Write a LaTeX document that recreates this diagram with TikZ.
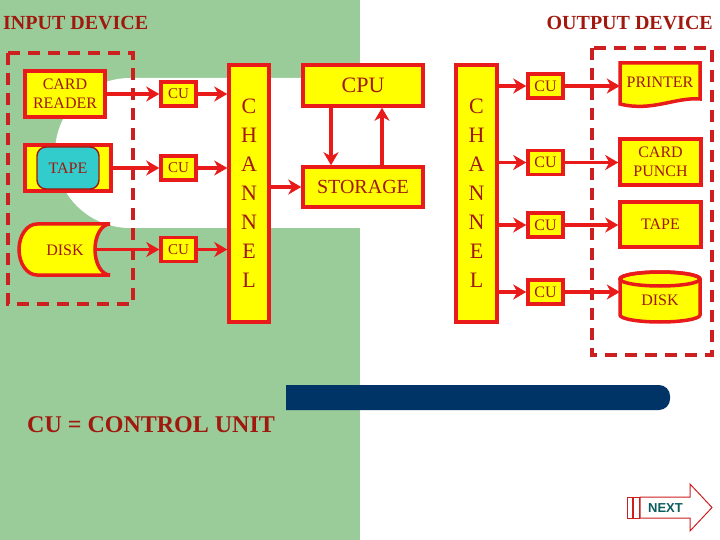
\documentclass[tikz,border=0pt]{standalone}
\usepackage{fontspec}
\setmainfont{Liberation Serif}
\newfontfamily\nextfont{Liberation Sans}
\usetikzlibrary{arrows.meta}
\definecolor{bggreen}{HTML}{99CC99}
\definecolor{boxred}{HTML}{E81A1A}
\definecolor{dashred}{HTML}{CC1F1F}
\definecolor{txtred}{HTML}{A0180E}
\definecolor{barblue}{HTML}{003366}
\definecolor{tapecyan}{HTML}{33CCCC}
\definecolor{nextteal}{HTML}{0E5E5E}
\definecolor{boxyellow}{HTML}{FFFF00}
\begin{document}
\begin{tikzpicture}[x=1pt,y=-1pt,
  box/.style={draw=boxred, fill=boxyellow, line width=3.5pt, inner sep=0pt, text=txtred, align=center},
  lbl/.style={inner sep=0pt, text=txtred, align=center},
  devfont/.style={font=\fontsize{16}{19}\selectfont},
  cubox/.style={box, minimum width=35pt, minimum height=24pt, font=\fontsize{15}{15}\selectfont},
  conn/.style={draw=boxred, line width=3.2pt, -{Stealth[length=13pt,width=15pt,inset=4pt]}},
  chan/.style={box, minimum width=40pt, minimum height=257pt, font=\fontsize{22}{29}\selectfont},
  devdash/.style={draw=dashred, line width=3.2pt, dash pattern=on 12pt off 8pt},
  shapeline/.style={draw=boxred, fill=boxyellow, line width=3.5pt},
  title/.style={inner sep=0pt, text=txtred, font=\bfseries\fontsize{20}{20}\selectfont}
]
\useasboundingbox (0,0) rectangle (720,540);
% backgrounds
\fill[bggreen] (0,0) rectangle (360,540);
\fill[white] (360,0) rectangle (720,540);
\fill[white, rounded corners=75pt] (55,78) rectangle (430,228);
\fill[barblue] (286,385) [rounded corners=11pt] -- (670,385) -- (670,410) [sharp corners] -- (286,410) -- cycle;

% titles
\node[title, anchor=west] (intitle) at (3,23) {INPUT DEVICE};
\node[title, anchor=east] (outtitle) at (713,23) {OUTPUT DEVICE};
\node[inner sep=0pt, text=txtred, anchor=west, font=\bfseries\fontsize{24}{24}\selectfont] (legend) at (27,425) {CU = CONTROL UNIT};

% dashed device groups
\draw[devdash] (8,53) rectangle (133,304);
\draw[devdash] (592,48) rectangle (712,355);

% input devices
\node[box, devfont, minimum width=80pt, minimum height=46pt] (card) at (65,94) {CARD\\READER};
\node[box, minimum width=86pt, minimum height=46pt] (tapein) at (68,168) {};
\node[fill=tapecyan, draw=txtred, line width=1.4pt, rounded corners=9pt, inner sep=0pt,
      minimum width=62pt, minimum height=42pt, text=txtred, devfont] (tapelabel) at (68,168) {TAPE};
\path[shapeline] (110,224) -- (37,224) arc[start angle=-90, end angle=-270, x radius=18, y radius=25.5]
   -- (110,275) arc[start angle=90, end angle=270, x radius=15, y radius=25.5] -- cycle;
\node[lbl, devfont] (diskin) at (65,250) {DISK};
\coordinate (diskport) at (95,249.5);

% left CUs and channel
\node[cubox] (cul1) at (178.5,94) {CU};
\node[cubox] (cul2) at (178.5,168) {CU};
\node[cubox] (cul3) at (178.5,249.5) {CU};
\node[chan] (chanl) at (249,193.5) {C\\H\\A\\N\\N\\E\\L};

% CPU and storage
\node[box, minimum width=120pt, minimum height=41pt, font=\fontsize{22}{22}\selectfont] (cpu) at (363,85.5) {CPU};
\node[box, minimum width=120pt, minimum height=40pt, font=\fontsize{20}{20}\selectfont] (storage) at (363,187) {STORAGE};

% right channel and CUs
\node[chan, minimum width=41pt] (chanr) at (476.5,193.5) {C\\H\\A\\N\\N\\E\\L};
\node[cubox, font=\fontsize{16}{16}\selectfont] (cur1) at (545.5,86) {CU};
\node[cubox, font=\fontsize{16}{16}\selectfont] (cur2) at (545.5,162.5) {CU};
\node[cubox, font=\fontsize{16}{16}\selectfont] (cur3) at (545.5,225) {CU};
\node[cubox, font=\fontsize{16}{16}\selectfont] (cur4) at (545.5,292) {CU};

% output devices
\path[shapeline] (620,63) -- (700,63) -- (700,99) .. controls (675,97) and (652,112) .. (620,104) -- cycle;
\node[lbl, devfont, minimum width=80pt, minimum height=38pt] (printer) at (660,82) {PRINTER};
\node[box, devfont, minimum width=81pt, minimum height=46pt] (punch) at (660.5,162) {CARD\\PUNCH};
\node[box, devfont, minimum width=81pt, minimum height=45pt] (tapeout) at (660.5,224.5) {TAPE};
\path[shapeline] (620,279) -- (620,315) arc[start angle=180, end angle=0, x radius=40, y radius=7]
   -- (700,279) arc[start angle=0, end angle=-180, x radius=40, y radius=7] -- cycle;
\draw[draw=boxred, line width=3.5pt] (660,279) ellipse[x radius=40, y radius=7];
\node[lbl, devfont, minimum width=80pt, minimum height=50pt] (diskout) at (660,300) {DISK};

% connectors, input side
\draw[conn] (card.east) -- (cul1.west);
\draw[conn] (tapein.east) -- (cul2.west);
\draw[conn] (diskport) -- (cul3.west);
\draw[conn] (cul1.east) -- (cul1.east -| chanl.west);
\draw[conn] (cul2.east) -- (cul2.east -| chanl.west);
\draw[conn] (cul3.east) -- (cul3.east -| chanl.west);
\draw[conn] (chanl.east |- storage.west) -- (storage.west);
\draw[conn] ([xshift=-32pt]cpu.south) -- ([xshift=-32pt]storage.north);
\draw[conn] ([xshift=19pt]storage.north) -- ([xshift=19pt]cpu.south);

% connectors, output side
\draw[conn] (chanr.east |- cur1.west) -- (cur1.west);
\draw[conn] (chanr.east |- cur2.west) -- (cur2.west);
\draw[conn] (chanr.east |- cur3.west) -- (cur3.west);
\draw[conn] (chanr.east |- cur4.west) -- (cur4.west);
\draw[conn] (cur1.east) -- (cur1.east -| printer.west);
\draw[conn] (cur2.east) -- (cur2.east -| punch.west);
\draw[conn] (cur3.east) -- (cur3.east -| tapeout.west);
\draw[conn] (cur4.east) -- (cur4.east -| diskout.west);

% NEXT button
\path[draw=dashred, fill=white, line width=1pt] (640,497) -- (690,497) -- (690,484) -- (712,507.5)
   -- (690,531) -- (690,518) -- (640,518) -- cycle;
\draw[draw=dashred, line width=1pt] (627,497) rectangle (632,518);
\draw[draw=dashred, line width=1pt] (633,497) rectangle (639,518);
\node[inner sep=0pt, text=nextteal, font=\nextfont\bfseries\fontsize{13}{13}\selectfont] (next) at (665.5,508) {NEXT};
\end{tikzpicture}
\end{document}
